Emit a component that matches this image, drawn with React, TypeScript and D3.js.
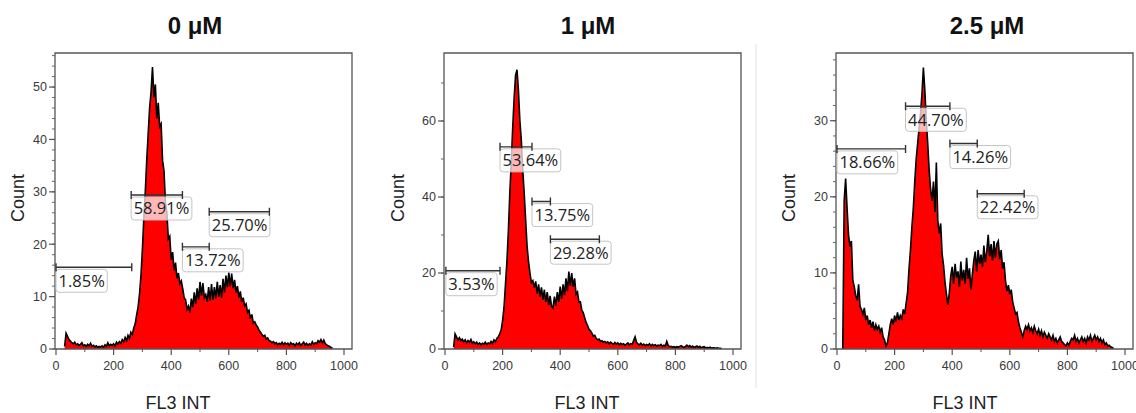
import React, { useEffect, useRef } from 'react';
import * as d3 from 'd3';

// ---------- data ----------
const BIN_WIDTH = 5;

const start0uM = 30;
const counts0uM = [
  0.5, 3.0, 2.4, 1.8, 1.5, 1.2, 1.0, 1.3, 0.8, 1.0, 0.7, 0.9, 1.2, 0.6, 0.8, 0.5, 0.9, 0.6, 1.1, 0.5,
  0.7, 0.4, 0.6, 0.3, 0.5, 0.4, 0.6, 0.3, 0.8, 0.5, 1.2, 0.6, 0.9, 0.7, 1.0, 0.6, 1.3, 0.9, 1.4, 1.1,
  1.8, 1.4, 2.2, 1.6, 2.6, 2.0, 3.2, 2.8, 4.0, 4.8, 6.5, 8.0, 10.5, 14, 19, 25, 30, 36, 41, 46,
  49, 53.8, 48, 50.5, 44, 47, 42.5, 43, 36, 34, 28, 26, 21, 21.5, 17, 18.5, 15, 16.5, 13.5, 14.5,
  12.5, 13,
  11.5, 9.8, 9.4, 7.6, 8.2, 7.0, 9.6, 8.0, 10.8, 8.6, 11.6, 9.4, 12.8, 10.2, 12.6, 9.8, 10.4, 9.0, 11.8, 9.2,
  12.4, 9.4, 11.8, 9.6, 12.8, 10.0, 12.2, 9.8, 13.4, 10.8, 14.0, 11.8, 14.6, 12.0, 14.4, 11.6, 13.2, 10.8, 12.0, 9.8,
  11.0, 9.0, 9.8, 8.2, 8.6, 7.0, 7.4, 5.8, 6.6, 5.0, 5.2,
  4.6, 4.2, 3.6, 3.2, 2.8, 2.4, 2.6, 1.9, 2.1, 1.6, 1.5, 1.2, 1.4, 1.0, 1.2, 0.8, 1.1, 0.9, 1.3, 0.8,
  1.2, 0.9, 1.1, 0.7, 1.2, 0.9, 1.0, 0.6, 1.1, 0.8, 1.2, 0.7, 1.0, 1.3, 0.8, 1.1, 0.7, 1.0, 0.8, 1.4,
  0.9, 1.2, 1.0, 1.6, 1.3, 1.8, 1.2, 1.7, 1.0, 0.8, 0.6, 0.5, 0.3, 0.2,
];

const start1uM = 30;
const counts1uM = [
  0.5, 4.0, 3.2, 2.4, 3.0, 2.2, 2.6, 1.9, 2.4, 1.6, 2.2, 1.8, 2.5, 1.5, 1.9, 1.4, 1.8, 1.2, 1.6, 1.1,
  1.5, 1.3, 1.8, 1.2, 1.6, 1.4, 2.0, 1.5, 2.4, 1.9, 2.8, 3.2, 4.0, 5.0, 7.5, 11, 17, 23, 31, 41,
  49, 58, 66, 72, 73.5, 68, 60, 55, 47, 41, 34, 27, 23, 20, 17.5, 18, 16.2, 17.8, 14.6, 17,
  13.8, 16.2, 13, 15.6, 12.4, 15, 11.6, 14, 11.2, 10.8, 13.8, 11.4, 15, 12.4, 16.4, 13.2, 17, 14.2, 18.6, 15.2,
  20.4, 16.6, 20, 16.4, 18.6, 14.4, 15, 12.4, 12.4, 10.2, 9.6, 8.2, 7.0, 6.2, 5.2, 4.8, 4.2, 3.4, 3.6, 2.8,
  2.4, 2.6, 2.0, 2.2, 1.8, 2.0, 1.6, 1.9, 1.4, 1.8, 1.5, 1.2, 1.7, 1.3, 1.6, 1.1, 1.5, 1.2, 1.4, 1.0,
  1.3, 1.6, 1.1, 1.4, 1.2, 2.2, 3.2, 1.8, 1.3, 1.1, 1.5, 1.0, 1.3, 0.9, 1.2, 1.0, 1.4, 0.8, 1.2, 0.9,
  1.1, 0.8, 1.0, 0.9, 1.2, 0.7, 1.0, 0.8, 2.0, 0.9, 0.6, 0.7, 0.5, 0.6, 0.4, 0.6, 0.5, 0.7, 0.9, 0.6,
  0.4, 0.7, 1.0, 0.6, 0.9, 0.5, 0.8, 0.4, 0.6, 0.8, 0.4, 0.7, 0.3, 0.5, 0.6, 0.3, 0.4, 0.3, 0.5, 0.2,
  0.3, 0.3, 0.2, 0.3, 0.2, 0.2, 0.1,
];

const start25uM = 20;
const counts25uM = [
  0, 19.5, 22.4, 18.5, 15, 13.5, 14.2, 9, 8.2, 7, 6.4, 8.5, 5.6, 5.2, 4.6, 5.4, 3.8, 4.4, 3.2, 3.8,
  2.8, 3.6, 2.4, 3.2, 2.6, 3.0, 2.2, 2.8, 1.6, 1.2, 0.4, 0.8, 2.0, 3.2, 4.0, 3.2, 4.4, 3.6, 4.8, 3.8,
  4.4, 4.0, 5.2, 4.6, 6.0, 7.4, 10.5, 13, 16, 18.5, 22, 25, 27, 29, 31, 33.5, 37, 34, 30, 27,
  23.5, 21, 19.5, 22, 18, 24.5, 16.8, 15.2, 16.5, 12.5, 11, 8.8, 7.2, 5.8, 7.4, 9.6, 10.8, 8.6, 11.2, 9.4,
  10.2, 8.2, 11.5, 9.0, 10.4, 8.6, 12, 9.2, 10.6, 7.8, 9.8, 11.6, 12.8, 10.2, 13, 11.2, 12.4, 10.8, 13.6, 11.4,
  12.8, 15, 12.2, 13.8, 11.6, 14.2, 12, 13.8, 14.2, 11.8, 13, 10.6, 11.4, 9, 7.6, 8.4, 7.2, 7.8, 6.2, 5.4,
  4.6, 4.8, 3.6, 2.8, 2.2, 1.6, 2.4, 3.0, 2.6, 3.2, 2.4, 2.8, 2.2, 3.0, 2.4, 2.0, 2.6, 1.8, 2.4, 1.6,
  2.2, 1.8, 1.4, 2.0, 1.6, 1.2, 1.8, 1.0, 1.4, 0.8, 1.2, 1.6, 1.0, 0.8, 0.6, 0.4, 0.8, 0.5, 1.0, 1.4,
  1.2, 1.8, 1.0, 1.4, 0.8, 1.2, 1.6, 1.0, 1.4, 0.8, 1.6, 1.2, 1.8, 1.0, 1.4, 1.8, 1.2, 1.6, 1.0, 1.4,
  0.8, 1.2, 0.6, 0.8, 0.4, 0.5, 0.3, 0.2, 0.1,
];

const titles = ['0 μM', '1 μM', '2.5 μM'];
const xTickValues = [0, 200, 400, 600, 800, 1000];
const xMinorValues = [100, 300, 500, 700, 900];
const yTicks0uM = [0, 10, 20, 30, 40, 50];
const yTicks1uM = [0, 20, 40, 60];
const yTicks25uM = [0, 10, 20, 30];
const yMax = [56.5, 77.9, 38.9];
const yMinorStep = [2, 10, 2];

const gates0uM = [
  { lo: 0, hi: 263, level: 15.6, label: '1.85%' },
  { lo: 261, hi: 439, level: 29.4, label: '58.91%' },
  { lo: 439, hi: 532, level: 19.5, label: '13.72%' },
  { lo: 532, hi: 741, level: 26.2, label: '25.70%' },
];
const gates1uM = [
  { lo: 3, hi: 191, level: 20.6, label: '3.53%' },
  { lo: 191, hi: 302, level: 53.2, label: '53.64%' },
  { lo: 302, hi: 366, level: 38.8, label: '13.75%' },
  { lo: 366, hi: 536, level: 28.9, label: '29.28%' },
];
const gates25uM = [
  { lo: 0, hi: 238, level: 26.3, label: '18.66%' },
  { lo: 238, hi: 392, level: 31.9, label: '44.70%' },
  { lo: 392, hi: 487, level: 27, label: '14.26%' },
  { lo: 487, hi: 650, level: 20.4, label: '22.42%' },
];

// ---------- layout ----------
const W = 1136;
const H = 413;
const TOP = 53;
const BOTTOM = 349;
const FRAME_W = 297;
const panelLayout = [
  { left: 55, titleX: 195, yLabelX: 18, xLabelX: 178 },
  { left: 444, titleX: 588, yLabelX: 398, xLabelX: 587 },
  { left: 836, titleX: 987, yLabelX: 789, xLabelX: 965 },
];

const SANS = '"Liberation Sans", Arial, Helvetica, sans-serif';
const GATE_FONT = '"Open Sans", "Noto Sans", sans-serif';

export default function App() {
  const ref = useRef<SVGSVGElement | null>(null);

  useEffect(() => {
    const svg = d3.select(ref.current);
    svg.selectAll('*').remove();

    const series = [
      { start: start0uM, counts: counts0uM, yTicks: yTicks0uM, gates: gates0uM },
      { start: start1uM, counts: counts1uM, yTicks: yTicks1uM, gates: gates1uM },
      { start: start25uM, counts: counts25uM, yTicks: yTicks25uM, gates: gates25uM },
    ];

    // separator between panel 2 and 3
    svg.append('line')
      .attr('x1', 756).attr('x2', 756).attr('y1', 44).attr('y2', 388)
      .attr('stroke', '#e3e3e3').attr('stroke-width', 1);

    series.forEach((s, i) => {
      const L = panelLayout[i];
      const g = svg.append('g');
      const x = d3.scaleLinear().domain([0, 1000]).range([L.left + 1, L.left + 289]);
      const y = d3.scaleLinear().domain([0, yMax[i]]).range([BOTTOM, TOP]);

      const pts = s.counts.map((v, k) => ({ c: s.start + k * BIN_WIDTH, v }));

      const area = d3.area<{ c: number; v: number }>()
        .x((d) => x(d.c)).y0(y(0)).y1((d) => y(d.v));
      const line = d3.line<{ c: number; v: number }>()
        .x((d) => x(d.c)).y((d) => y(d.v));

      g.append('path').attr('d', area(pts) as string).attr('fill', '#ff0000');
      g.append('path').attr('d', line(pts) as string)
        .attr('fill', 'none').attr('stroke', '#000').attr('stroke-width', 1.6)
        .attr('stroke-linejoin', 'miter');

      // frame
      const right = L.left + FRAME_W;
      g.append('path')
        .attr('d', `M${L.left},${BOTTOM}V${TOP}H${right}V${BOTTOM}H${L.left}`)
        .attr('fill', 'none').attr('stroke', '#555').attr('stroke-width', 1.3);

      // x ticks
      xTickValues.forEach((t) => {
        g.append('line').attr('x1', x(t)).attr('x2', x(t)).attr('y1', BOTTOM).attr('y2', BOTTOM + 6)
          .attr('stroke', '#555').attr('stroke-width', 1.2);
        g.append('text').attr('x', x(t)).attr('y', BOTTOM + 21)
          .attr('text-anchor', 'middle').attr('font-family', SANS).attr('font-size', 12.5)
          .attr('fill', '#3a3a3a').text(String(t));
      });
      xMinorValues.forEach((t) => {
        g.append('line').attr('x1', x(t)).attr('x2', x(t)).attr('y1', BOTTOM).attr('y2', BOTTOM + 3)
          .attr('stroke', '#555').attr('stroke-width', 1);
      });

      // y ticks
      const step = yMinorStep[i];
      for (let v = 0; v <= yMax[i]; v += step) {
        g.append('line').attr('x1', L.left - 3).attr('x2', L.left).attr('y1', y(v)).attr('y2', y(v))
          .attr('stroke', '#666').attr('stroke-width', 1);
      }
      s.yTicks.forEach((t) => {
        g.append('line').attr('x1', L.left - 6).attr('x2', L.left).attr('y1', y(t)).attr('y2', y(t))
          .attr('stroke', '#555').attr('stroke-width', 1.2);
        g.append('text').attr('x', L.left - 8).attr('y', y(t)).attr('dy', '0.35em')
          .attr('text-anchor', 'end').attr('font-family', SANS).attr('font-size', 12.5)
          .attr('fill', '#3a3a3a').text(String(t));
      });

      // gates
      s.gates.forEach((gt) => {
        const x0 = x(gt.lo);
        const x1 = x(gt.hi);
        const yy = y(gt.level);
        const txt = g.append('text').attr('x', x0 + 2.5).attr('y', yy + 19.5)
          .attr('font-family', GATE_FONT).attr('font-size', 16.5).attr('fill', '#222')
          .text(gt.label);
        const tw = (txt.node() as SVGTextElement).getComputedTextLength();
        g.insert('rect', () => txt.node() as any)
          .attr('x', x0).attr('y', yy + 2).attr('width', tw + 5).attr('height', 23)
          .attr('rx', 3).attr('fill', '#ffffff').attr('fill-opacity', 0.72)
          .attr('stroke', '#c4c4c4').attr('stroke-width', 1);
        g.append('path')
          .attr('d', `M${x0},${yy - 4}V${yy + 4}M${x0},${yy}H${x1}M${x1},${yy - 4}V${yy + 4}`)
          .attr('fill', 'none').attr('stroke', '#333').attr('stroke-width', 1.4);
      });

      // titles and axis labels
      g.append('text').attr('x', L.titleX).attr('y', 34).attr('text-anchor', 'middle')
        .attr('font-family', SANS).attr('font-weight', 'bold').attr('font-size', 24)
        .attr('fill', '#111').text(titles[i]);
      g.append('text').attr('transform', `translate(${L.yLabelX},198) rotate(-90)`)
        .attr('text-anchor', 'middle').attr('dy', '0.35em')
        .attr('font-family', SANS).attr('font-size', 18).attr('fill', '#222').text('Count');
      g.append('text').attr('x', L.xLabelX).attr('y', 409).attr('text-anchor', 'middle')
        .attr('font-family', SANS).attr('font-size', 18).attr('fill', '#222').text('FL3 INT');
    });
  }, []);

  return (
    <svg
      ref={ref}
      width={W}
      height={H}
      style={{ position: 'absolute', left: 0, top: 0, background: '#fff' }}
    />
  );
}
